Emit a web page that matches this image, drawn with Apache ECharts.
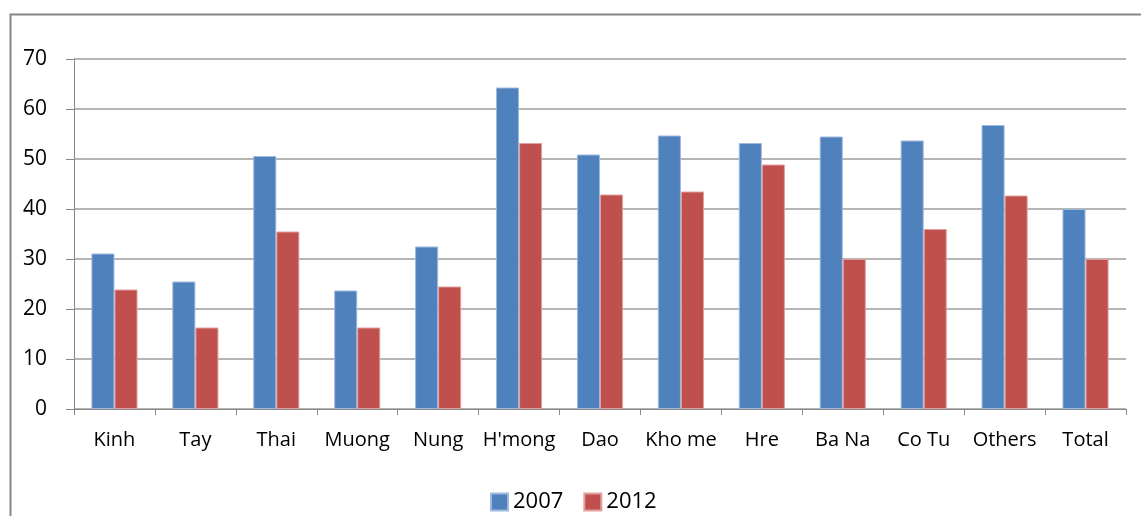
<!DOCTYPE html>
<html>
<head>
<meta charset="utf-8">
<script src="https://cdn.jsdelivr.net/npm/echarts@6/dist/echarts.min.js"></script>
<style>html,body{margin:0;padding:0;background:#fff;}#c{width:1141px;height:516px;}</style>
</head>
<body>
<div id="c"></div>
<script>
const categories = ["Kinh","Tay","Thai","Muong","Nung","H'mong","Dao","Kho me","Hre","Ba Na","Co Tu","Others","Total"];
const values2007 = [31.1, 25.5, 50.6, 23.7, 32.5, 64.3, 50.9, 54.7, 53.2, 54.5, 53.7, 56.8, 40.0];
const values2012 = [23.9, 16.3, 35.5, 16.3, 24.5, 53.2, 42.9, 43.5, 48.9, 30.0, 36.0, 42.7, 30.0];
const yTicks = [0, 10, 20, 30, 40, 50, 60, 70];

const chart = echarts.init(document.getElementById('c'), null, {renderer: 'canvas'});
const font = '"Open Sans", "Noto Sans", sans-serif';
chart.setOption({
  animation: false,
  backgroundColor: '#fff',
  graphic: [{
    type: 'rect', left: 8, top: 12, shape: {width: 1150, height: 520},
    style: {fill: 'none', stroke: '#868686', lineWidth: 2}, silent: true, z: -1
  }],
  grid: {left: 74, right: 15, top: 59, bottom: 107},
  legend: {
    data: ['2007', '2012'], left: 485, top: 486, itemWidth: 17, itemHeight: 17, itemGap: 20,
    icon: 'rect', textStyle: {fontFamily: font, fontSize: 22, color: '#000'}
  },
  xAxis: {
    type: 'category', data: categories,
    axisLine: {lineStyle: {color: '#888', width: 1}},
    axisTick: {show: true, length: 6, lineStyle: {color: '#888'}},
    axisLabel: {fontFamily: font, fontSize: 20, color: '#000', margin: 21, interval: 0}
  },
  yAxis: {
    type: 'value', min: yTicks[0], max: yTicks[yTicks.length-1], interval: 10,
    axisLine: {show: true, lineStyle: {color: '#888', width: 1}},
    axisTick: {show: true, length: 8, lineStyle: {color: '#888'}},
    splitLine: {lineStyle: {color: '#9c9c9c', width: 1.5}},
    axisLabel: {fontFamily: font, fontSize: 21, color: '#000', margin: 27}
  },
  series: [
    {name: '2007', type: 'bar', data: values2007, barGap: '0%', barCategoryGap: '43%',
     itemStyle: {color: '#4F81BD', borderColor: '#9DB9DD', borderWidth: 1}},
    {name: '2012', type: 'bar', data: values2012, barGap: '0%', barCategoryGap: '43%',
     itemStyle: {color: '#C0504D', borderColor: '#E1A09E', borderWidth: 1}}
  ]
});
</script>
</body>
</html>
